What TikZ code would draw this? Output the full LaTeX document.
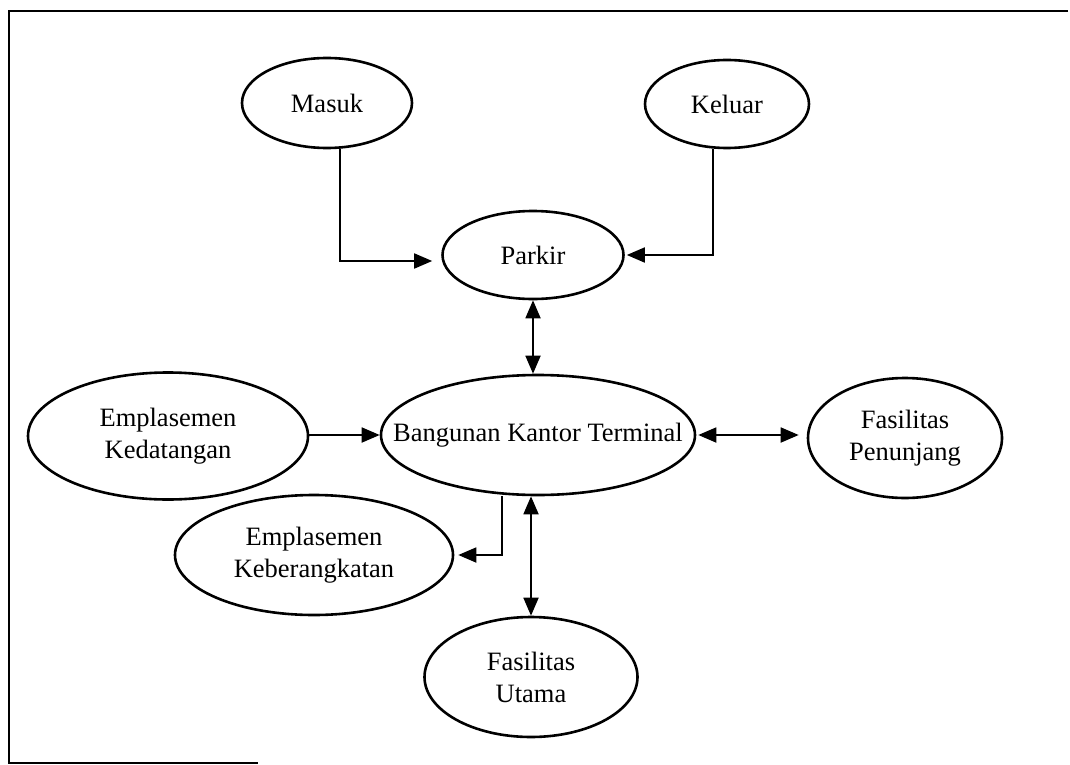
\documentclass[tikz,border=0pt]{standalone}
\usepackage{fontspec}
\setmainfont{Liberation Serif}
\usetikzlibrary{arrows.meta,shapes.geometric}
\tikzset{
  oval/.style={draw, line width=2.6pt, ellipse, inner sep=0pt},
  txt/.style={inner sep=0pt, align=center, font=\fontsize{26.5}{32}\selectfont},
  conn/.style={line width=1.8pt, -{Triangle[length=18pt,width=15pt]}},
  dconn/.style={line width=1.8pt, {Triangle[length=18pt,width=15pt]}-{Triangle[length=18pt,width=15pt]}},
  frame/.style={line width=2pt}
}
\begin{document}
\begin{tikzpicture}[x=1pt,y=-1pt]
\useasboundingbox (0,0) rectangle (1070,765);
% frame (partial, as printed)
\draw[frame] (1068,11) -- (9,11) -- (9,763) -- (258,763);
% ellipses
\node[oval, minimum width=170pt, minimum height=90pt] (masuk) at (327,103) {};
\node[oval, minimum width=164pt, minimum height=88pt] (keluar) at (727,104) {};
\node[oval, minimum width=181pt, minimum height=88pt] (parkir) at (533,255) {};
\node[oval, minimum width=314pt, minimum height=120pt] (bangunan) at (538,435) {};
\node[oval, minimum width=280pt, minimum height=127pt] (kedatangan) at (168,436) {};
\node[oval, minimum width=194pt, minimum height=120pt] (penunjang) at (905,438) {};
\node[oval, minimum width=278pt, minimum height=120pt] (keberangkatan) at (314,555) {};
\node[oval, minimum width=213pt, minimum height=120pt] (utama) at (531,677) {};
% texts
\node[txt] (masuk-t) at (masuk) {Masuk};
\node[txt] (keluar-t) at (keluar) {Keluar};
\node[txt] (parkir-t) at (parkir) {Parkir};
\node[txt] (bangunan-t) at (bangunan) {Bangunan Kantor Terminal};
\node[txt] (kedatangan-t) at (kedatangan) {Emplasemen\\Kedatangan};
\node[txt] (penunjang-t) at (penunjang) {Fasilitas\\Penunjang};
\node[txt] (keberangkatan-t) at (keberangkatan) {Emplasemen\\Keberangkatan};
\node[txt] (utama-t) at (utama) {Fasilitas\\Utama};
% connectors
\draw[conn] ([xshift=13pt]masuk.south) |- ([xshift=-9pt,yshift=-6pt]parkir.west);
\draw[conn] ([xshift=-14pt]keluar.south) |- ([xshift=2pt]parkir.east);
\draw[dconn] (parkir.south) -- (parkir.south |- bangunan.north);
\draw[conn] (kedatangan.east |- bangunan.west) -- (bangunan.west);
\draw[dconn] ([xshift=2pt]bangunan.east) -- ([xshift=-8pt]bangunan.east -| penunjang.west);
\draw[conn] ([xshift=-36pt]bangunan.south) |- ([xshift=4pt]keberangkatan.east);
\draw[dconn] (utama.north |- bangunan.south) -- (utama.north);
\end{tikzpicture}
\end{document}
